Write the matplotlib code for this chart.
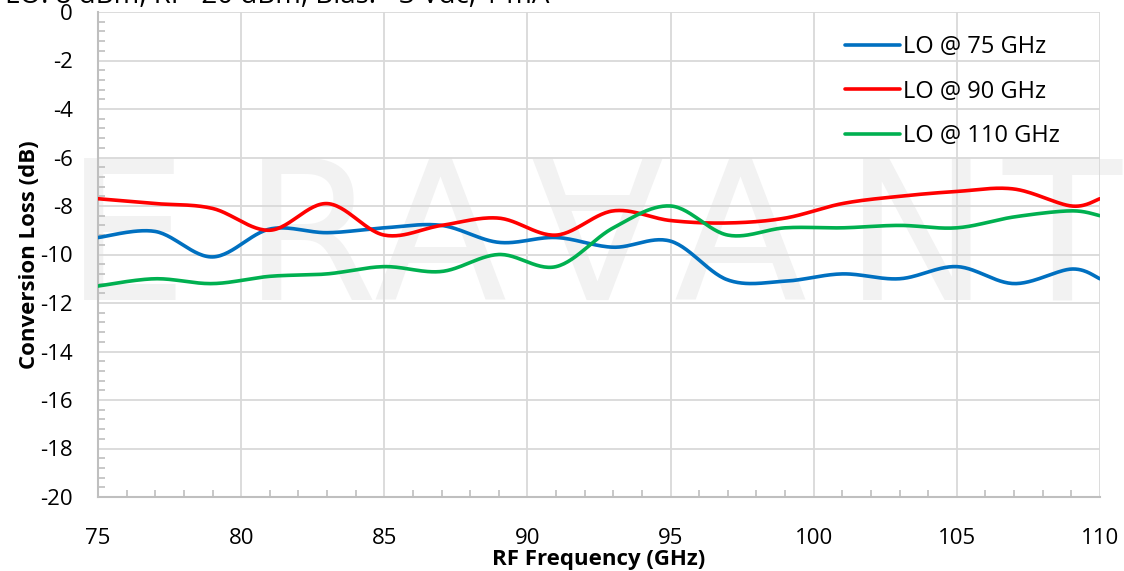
import numpy as np
import matplotlib
matplotlib.use("Agg")
import matplotlib.pyplot as plt
from matplotlib.ticker import MultipleLocator

plt.rcParams['font.family'] = ['Open Sans', 'DejaVu Sans']
plt.rcParams['axes.unicode_minus'] = False

# RF frequency points (GHz)
freq = [75, 77, 79, 81, 83, 85, 87, 89, 91, 93, 95, 97, 99, 101, 103, 105, 107, 109, 110]

lo_75 = [-9.3, -9.05, -10.1, -8.95, -9.1, -8.9, -8.8, -9.5, -9.3, -9.7, -9.45,
         -11.05, -11.1, -10.8, -11.0, -10.5, -11.2, -10.6, -11.0]
lo_90 = [-7.7, -7.9, -8.1, -9.0, -7.9, -9.2, -8.8, -8.5, -9.2, -8.2, -8.6,
         -8.7, -8.5, -7.9, -7.6, -7.4, -7.3, -8.0, -7.7]
lo_110 = [-11.3, -11.0, -11.2, -10.9, -10.8, -10.5, -10.7, -10.0, -10.5, -8.9, -8.0,
          -9.2, -8.9, -8.9, -8.8, -8.9, -8.45, -8.2, -8.4]

series = [("LO @ 75 GHz", lo_75, "#0070C0"),
          ("LO @ 90 GHz", lo_90, "#FF0000"),
          ("LO @ 110 GHz", lo_110, "#00B050")]

yticks = list(range(-20, 1, 2))
xticks = [75, 80, 85, 90, 95, 100, 105, 110]


def smooth(x, y, n=30):
    # Excel style "smoothed line" (Catmull-Rom bezier through the points)
    x = np.asarray(x, float)
    y = np.asarray(y, float)
    px = np.concatenate([[x[0]], x, [x[-1]]])
    py = np.concatenate([[y[0]], y, [y[-1]]])
    xs, ys = [], []
    t = np.linspace(0, 1, n)
    for i in range(1, len(px) - 2):
        p0 = np.array([px[i], py[i]])
        p3 = np.array([px[i + 1], py[i + 1]])
        c1 = p0 + (np.array([px[i + 1], py[i + 1]]) - np.array([px[i - 1], py[i - 1]])) / 6
        c2 = p3 - (np.array([px[i + 2], py[i + 2]]) - np.array([px[i], py[i]])) / 6
        b = ((1 - t) ** 3)[:, None] * p0 + (3 * (1 - t) ** 2 * t)[:, None] * c1 \
            + (3 * (1 - t) * t ** 2)[:, None] * c2 + (t ** 3)[:, None] * p3
        xs.extend(b[:, 0])
        ys.extend(b[:, 1])
    return xs, ys


fig = plt.figure(figsize=(11.24, 5.71), dpi=100)
ax = fig.add_axes([98 / 1124, 74 / 571, 1002 / 1124, 485 / 571])
ax.set_zorder(2)
ax.patch.set_alpha(0)

# watermark behind the plot
wm = [("E", 126), ("R", 310), ("A", 440), ("\u2200", 597), ("A", 740), ("N", 917), ("T", 1062)]
for ch, px in wm:
    fig.text(px / 1124, 1 - 300 / 571, ch, fontsize=140, color="#f2f2f2",
             ha="center", va="baseline", family="DejaVu Sans", zorder=0)

for label, vals, col in series:
    sx, sy = smooth(freq, vals)
    ax.plot(sx, sy, color=col, lw=2.6, label=label, solid_capstyle="round", zorder=3)

ax.set_xlim(75, 110)
ax.set_ylim(-20, 0)
ax.set_xticks(xticks)
ax.set_yticks(yticks)
ax.xaxis.set_minor_locator(MultipleLocator(1))
ax.yaxis.set_minor_locator(MultipleLocator(0.4))

ax.grid(True, which="major", color="#d9d9d9", lw=1.3, zorder=1)
for s in ["top", "right"]:
    ax.spines[s].set_visible(False)
for s in ["left", "bottom"]:
    ax.spines[s].set_color("#bfbfbf")
    ax.spines[s].set_linewidth(1.5)

ax.tick_params(which="major", length=0, labelsize=16, pad=18)
ax.tick_params(axis="x", which="major", pad=22)
ax.tick_params(which="minor", direction="in", length=5, width=1.2, color="#bfbfbf")

ax.set_xlabel("RF Frequency (GHz)", fontsize=16, fontweight="bold", labelpad=0)
ax.set_ylabel("Conversion Loss (dB)", fontsize=16, fontweight="bold", labelpad=0)

ax.legend(loc="upper left", bbox_to_anchor=(0.7455, 0.952), frameon=False,
          borderpad=0, borderaxespad=0, fontsize=17, handlelength=2.33,
          handletextpad=0.13, labelspacing=0.86)

fig.text(5 / 1124, 1 - 3 / 571, "LO: 8 dBm, RF -20 dBm, Bias: +3 Vdc, 1 mA",
         fontsize=20, ha="left", va="baseline")

fig.savefig("out.png", dpi=100)
